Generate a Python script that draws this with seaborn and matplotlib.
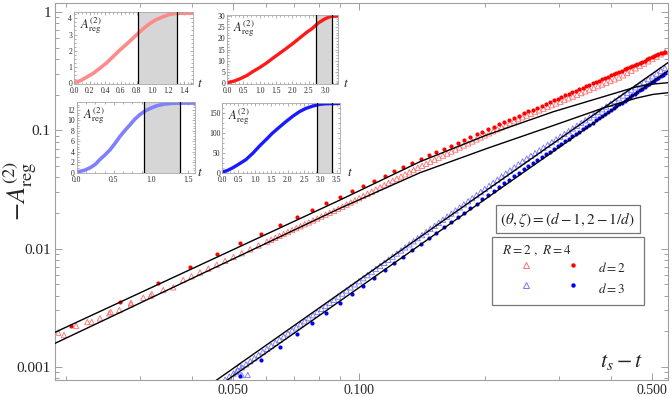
import matplotlib
matplotlib.use("Agg")
import matplotlib.pyplot as plt
import seaborn as sns
from matplotlib.lines import Line2D
from matplotlib.legend_handler import HandlerTuple
from matplotlib.ticker import FixedLocator, NullFormatter, FormatStrFormatter, AutoMinorLocator

# R = 4, d = 2 (filled red dots)
red_dot_t = [0.0205, 0.0268, 0.0331, 0.0394, 0.0457, 0.0520, 0.0583, 0.0646, 0.0709, 0.0772,
             0.0835, 0.0898, 0.0961, 0.1024, 0.1087, 0.1150, 0.1213, 0.1276, 0.1339, 0.1402,
             0.1465, 0.1528, 0.1591, 0.1654, 0.1717, 0.1780, 0.1843, 0.1906, 0.1969, 0.2032,
             0.2095, 0.2158, 0.2221, 0.2284, 0.2347, 0.2410, 0.2473, 0.2536, 0.2599, 0.2662,
             0.2725, 0.2788, 0.2851, 0.2914, 0.2977, 0.3040, 0.3103, 0.3166, 0.3229, 0.3292,
             0.3355, 0.3418, 0.3481, 0.3544, 0.3607, 0.3670, 0.3733, 0.3796, 0.3859, 0.3922,
             0.3985, 0.4048, 0.4111, 0.4174, 0.4237, 0.4300, 0.4363, 0.4426, 0.4489, 0.4552,
             0.4615, 0.4678, 0.4741, 0.4804, 0.4867, 0.4930, 0.4993, 0.5056, 0.5119, 0.5182,
             0.5245, 0.5308, 0.5371]
red_dot_A = [0.00223, 0.00356, 0.00516, 0.00700, 0.00895, 0.01109, 0.01341, 0.01589, 0.01854, 0.02136,
             0.02432, 0.02744, 0.03070, 0.03410, 0.03765, 0.04134, 0.04517, 0.04912, 0.05321, 0.05742,
             0.06152, 0.06569, 0.06995, 0.07428, 0.07873, 0.08326, 0.08787, 0.09262, 0.09739, 0.1023,
             0.1072, 0.1123, 0.1174, 0.1227, 0.1279, 0.1333, 0.1388, 0.1443, 0.1499, 0.1556,
             0.1614, 0.1671, 0.1730, 0.1791, 0.1851, 0.1912, 0.1974, 0.2037, 0.2100, 0.2164,
             0.2228, 0.2294, 0.2360, 0.2427, 0.2493, 0.2562, 0.2630, 0.2698, 0.2769, 0.2840,
             0.2911, 0.2982, 0.3055, 0.3129, 0.3202, 0.3276, 0.3351, 0.3426, 0.3503, 0.3579,
             0.3656, 0.3735, 0.3813, 0.3891, 0.3972, 0.4050, 0.4132, 0.4213, 0.4295, 0.4377,
             0.4461, 0.4544, 0.4627]

# R = 4, d = 3 (filled blue dots)
blue_dot_t = [0.0520, 0.0583, 0.0646, 0.0709, 0.0772, 0.0835, 0.0898, 0.0961, 0.1024, 0.1087,
              0.1150, 0.1213, 0.1276, 0.1339, 0.1402, 0.1465, 0.1528, 0.1591, 0.1654, 0.1717,
              0.1780, 0.1843, 0.1906, 0.1969, 0.2032, 0.2095, 0.2158, 0.2221, 0.2284, 0.2347,
              0.2410, 0.2473, 0.2536, 0.2599, 0.2662, 0.2725, 0.2788, 0.2851, 0.2914, 0.2977,
              0.3040, 0.3103, 0.3166, 0.3229, 0.3292, 0.3355, 0.3418, 0.3481, 0.3544, 0.3607,
              0.3670, 0.3733, 0.3796, 0.3859, 0.3922, 0.3985, 0.4048, 0.4111, 0.4174, 0.4237,
              0.4300, 0.4363, 0.4426, 0.4489, 0.4552, 0.4615, 0.4678, 0.4741, 0.4804, 0.4867,
              0.4930, 0.4993, 0.5056, 0.5119, 0.5182, 0.5245, 0.5308, 0.5371]
blue_dot_A = [0.000846, 0.001136, 0.001480, 0.001880, 0.002342, 0.002867, 0.003456, 0.004117, 0.004850, 0.005653,
              0.006537, 0.007503, 0.008543, 0.009676, 0.01089, 0.01219, 0.01359, 0.01509, 0.01667, 0.01836,
              0.02014, 0.02203, 0.02403, 0.02612, 0.02833, 0.03065, 0.03306, 0.03561, 0.03830, 0.04106,
              0.04397, 0.04674, 0.04967, 0.05271, 0.05585, 0.05911, 0.06246, 0.06592, 0.06951, 0.07319,
              0.07699, 0.08092, 0.08494, 0.08910, 0.09337, 0.09772, 0.1022, 0.1068, 0.1116, 0.1164,
              0.1214, 0.1265, 0.1317, 0.1370, 0.1425, 0.1481, 0.1538, 0.1597, 0.1657, 0.1718,
              0.1780, 0.1844, 0.1909, 0.1976, 0.2043, 0.2112, 0.2183, 0.2254, 0.2327, 0.2402,
              0.2477, 0.2555, 0.2634, 0.2714, 0.2795, 0.2878, 0.2962, 0.3047]

# shared time grid of the dense R = 2 runs (beyond t_s - t ~ 0.06)
dense_t = [0.06166, 0.06310, 0.06457, 0.06607, 0.06761, 0.06918, 0.07079, 0.07244, 0.07413, 0.07586,
           0.07762, 0.07943, 0.08128, 0.08318, 0.08511, 0.08710, 0.08913, 0.09120, 0.09333, 0.09550,
           0.09772, 0.1000, 0.1023, 0.1047, 0.1072, 0.1096, 0.1122, 0.1148, 0.1175, 0.1202,
           0.1230, 0.1259, 0.1288, 0.1318, 0.1349, 0.1380, 0.1413, 0.1445, 0.1479, 0.1514,
           0.1549, 0.1585, 0.1622, 0.1660, 0.1698, 0.1738, 0.1778, 0.1820, 0.1862, 0.1905,
           0.1950, 0.1995, 0.2042, 0.2089, 0.2138, 0.2188, 0.2239, 0.2291, 0.2344, 0.2399,
           0.2455, 0.2512, 0.2570, 0.2630, 0.2692, 0.2754, 0.2818, 0.2884, 0.2951, 0.3020,
           0.3090, 0.3162, 0.3236, 0.3311, 0.3388, 0.3467, 0.3548, 0.3631, 0.3715, 0.3802,
           0.3890, 0.3981, 0.4074, 0.4169, 0.4266, 0.4365, 0.4467, 0.4571, 0.4677, 0.4786,
           0.4898, 0.5012, 0.5129, 0.5248, 0.5370]

# R = 2, d = 2 (open red triangles)
red_tri_t = [0.01914, 0.01975, 0.02110, 0.02245, 0.02300, 0.02407, 0.02533, 0.02553, 0.02676, 0.02854,
             0.02854, 0.03054, 0.03180, 0.03199, 0.03408, 0.03601,
             0.03802, 0.03981, 0.04169, 0.04365, 0.04571, 0.04786, 0.05012, 0.05248, 0.05495, 0.05754,
             0.06026] + dense_t
red_tri_A = [0.001946, 0.001860, 0.002230, 0.002396, 0.002396, 0.002575, 0.002839, 0.002911, 0.003027, 0.003381,
             0.003488, 0.003846, 0.003999, 0.004133, 0.004467, 0.004708,
             0.005435, 0.005832, 0.006285, 0.006775, 0.007303, 0.007873, 0.008486, 0.009146, 0.009859, 0.010627,
             0.011456,
             0.01189, 0.01235, 0.01282, 0.01331, 0.01382, 0.01435, 0.01490, 0.01546, 0.01606, 0.01667,
             0.01731, 0.01797, 0.01866, 0.01937, 0.02011, 0.02088, 0.02168, 0.02256, 0.02354, 0.02455,
             0.02561, 0.02671, 0.02786, 0.02906, 0.03031, 0.03161, 0.03297, 0.03439, 0.03587, 0.03741,
             0.03902, 0.04070, 0.04245, 0.04428, 0.04619, 0.04818, 0.05017, 0.05218, 0.05428, 0.05647,
             0.05874, 0.06110, 0.06357, 0.06612, 0.06879, 0.07155, 0.07443, 0.07743, 0.08054, 0.08380,
             0.08716, 0.09066, 0.09433, 0.09811, 0.1021, 0.1062, 0.1104, 0.1149, 0.1195, 0.1244,
             0.1289, 0.1333, 0.1379, 0.1426, 0.1474, 0.1525, 0.1577, 0.1631, 0.1687, 0.1744,
             0.1804, 0.1866, 0.1929, 0.1995, 0.2064, 0.2134, 0.2207, 0.2283, 0.2361, 0.2441,
             0.2525, 0.2611, 0.2700, 0.2793, 0.2918, 0.3054, 0.3195, 0.3344, 0.3499, 0.3661,
             0.3831, 0.4009, 0.4195, 0.4390, 0.4593]

# R = 2, d = 3 (open blue triangles)
blue_tri_t = [0.05176, 0.05245, 0.05420, 0.05083,
              0.04786, 0.04898, 0.05012, 0.05129, 0.05248, 0.05370, 0.05495, 0.05623, 0.05754, 0.05888,
              0.06026] + dense_t
blue_tri_A = [0.001018, 0.000854, 0.000854, 0.000906,
              0.000780, 0.000829, 0.000880, 0.000934, 0.000992, 0.001053, 0.001118, 0.001187, 0.001260, 0.001338,
              0.001420,
              0.001508, 0.001601, 0.001699, 0.001804, 0.001916, 0.002034, 0.002159, 0.002293, 0.002434, 0.002584,
              0.002744, 0.002913, 0.003093, 0.003283, 0.003486, 0.003701, 0.003930, 0.004172, 0.004429, 0.004702,
              0.004993, 0.005301, 0.005627, 0.005975, 0.006343, 0.006735, 0.007150, 0.007591, 0.008060, 0.008557,
              0.009085, 0.009646, 0.01024, 0.01087, 0.01154, 0.01226, 0.01301, 0.01381, 0.01467, 0.01557,
              0.01653, 0.01755, 0.01863, 0.01979, 0.02101, 0.02230, 0.02368, 0.02514, 0.02669, 0.02834,
              0.03008, 0.03194, 0.03391, 0.03600, 0.03822, 0.04058, 0.04309, 0.04574, 0.04857, 0.05156,
              0.05464, 0.05764, 0.06080, 0.06414, 0.06766, 0.07137, 0.07529, 0.07942, 0.08378, 0.08837,
              0.09322, 0.09834, 0.1037, 0.1094, 0.1154, 0.1218, 0.1284, 0.1355, 0.1429, 0.1508,
              0.1590, 0.1678, 0.1770, 0.1867, 0.1969, 0.2077, 0.2191, 0.2312, 0.2439, 0.2572,
              0.2713, 0.2862, 0.3019, 0.3185, 0.3360]

# black fit curves
fit_t = [0.01829, 0.04171, 0.0900, 0.1397, 0.2016, 0.2907, 0.3826, 0.4597, 0.5036, 0.552]
fit_red_upper = [0.001875, 0.007266, 0.02575, 0.05428, 0.09126, 0.1436, 0.1923, 0.2336, 0.2462, 0.2535]
fit_red_lower = [0.001511, 0.006029, 0.02191, 0.04381, 0.07017, 0.1098, 0.1543, 0.1875, 0.2014, 0.2087]
fit_blue_t = [0.04171, 0.552]
fit_blue_upper = [0.000617, 0.3837]
fit_blue_lower = [0.000534, 0.3259]

# insets: A_reg(t) over the whole run, shaded = fit window
in1_t = [0, 0.08, 0.16, 0.25, 0.33, 0.42, 0.50, 0.58, 0.67, 0.75, 0.82, 0.90, 0.97, 1.05, 1.14, 1.22, 1.31, 1.40, 1.51]
in1_A = [0.04, 0.15, 0.37, 0.62, 0.92, 1.27, 1.64, 2.02, 2.40, 2.76, 3.08, 3.42, 3.69, 3.92, 4.10, 4.24, 4.31, 4.31, 4.31]
in2_t = [0, 0.2, 0.38, 0.6, 0.79, 1.0, 1.2, 1.4, 1.61, 1.8, 2.02, 2.2, 2.43, 2.6, 2.8, 3.0, 3.18, 3.4]
in2_A = [0.3, 0.9, 1.9, 3.4, 5.2, 7.0, 8.9, 11.1, 13.3, 15.3, 17.7, 19.8, 22.5, 24.2, 26.8, 28.6, 29.7, 29.8]
in3_t = [0, 0.1, 0.18, 0.25, 0.31, 0.38, 0.45, 0.52, 0.58, 0.65, 0.72, 0.78, 0.85, 0.92, 0.99, 1.08, 1.17, 1.28, 1.39, 1.59]
in3_A = [0.13, 0.45, 0.95, 1.6, 2.5, 3.4, 4.4, 5.7, 6.9, 8.1, 9.2, 10.2, 11.1, 11.8, 12.3, 12.8, 13.1, 13.25, 13.3, 13.3]
in4_t = [0, 0.15, 0.33, 0.5, 0.73, 0.95, 1.14, 1.35, 1.54, 1.75, 1.95, 2.15, 2.36, 2.55, 2.76, 2.97, 3.15, 3.37, 3.58]
in4_A = [1.7, 5, 12.5, 21, 33, 50, 67, 84, 100, 115, 129, 142, 154, 162, 168, 172.5, 174, 174.5, 174.5]
windows = [(0.82, 1.31), (2.72, 3.22), (0.90, 1.39), (2.90, 3.35)]

RED, LRED = "#ff0000", "#ff6e6e"
BLUE, LBLUE = "#0000ff", "#7474ff"
FRAME = "#a0a0a0"

sns.set_style("ticks")
plt.rcParams["font.family"] = ["Liberation Serif", "DejaVu Serif"]
plt.rcParams["mathtext.fontset"] = "stix"

fig = plt.figure(figsize=(6.72, 3.97), dpi=100)
ax = fig.add_axes([0.0818, 0.0428, 0.9122, 0.9496])
ax.set_xscale("log")
ax.set_yscale("log")

sns.scatterplot(x=red_tri_t, y=red_tri_A, ax=ax, marker="^", s=15, facecolor="none",
                edgecolor=LRED, linewidth=0.6, zorder=2)
sns.scatterplot(x=blue_tri_t, y=blue_tri_A, ax=ax, marker="^", s=15, facecolor="none",
                edgecolor=LBLUE, linewidth=0.6, zorder=2)
sns.scatterplot(x=red_dot_t, y=red_dot_A, ax=ax, color=RED, s=9, linewidth=0, zorder=3)
sns.scatterplot(x=blue_dot_t, y=blue_dot_A, ax=ax, color=BLUE, s=9, linewidth=0, zorder=3)

for xs, ys in [(fit_t, fit_red_upper), (fit_t, fit_red_lower),
               (fit_blue_t, fit_blue_upper), (fit_blue_t, fit_blue_lower)]:
    sns.lineplot(x=xs, y=ys, ax=ax, color="black", lw=1.0, sort=False, estimator=None, zorder=4)

ax.set_xlim(0.018793, 0.5459)
ax.set_ylim(0.000775, 1.1915)

ax.xaxis.set_major_locator(FixedLocator([0.05, 0.1, 0.5]))
ax.set_xticklabels(["0.050", "0.100", "0.500"])
ax.xaxis.set_minor_locator(FixedLocator([0.02, 0.03, 0.04, 0.06, 0.07, 0.08, 0.09, 0.2, 0.3, 0.4]))
ax.xaxis.set_minor_formatter(NullFormatter())
ax.yaxis.set_major_locator(FixedLocator([0.001, 0.01, 0.1, 1]))
ax.set_yticklabels(["0.001", "0.01", "0.1", "1"])
ax.yaxis.set_minor_locator(FixedLocator([m * 10.0 ** e for e in (-4, -3, -2, -1, 0) for m in range(2, 10)]))
ax.yaxis.set_minor_formatter(NullFormatter())
ax.tick_params(which="both", direction="in", top=True, right=True, color=FRAME, width=0.7)
ax.tick_params(which="major", length=5)
ax.tick_params(which="minor", length=3)
ax.tick_params(axis="x", labelsize=10, pad=3)
ax.tick_params(axis="y", labelsize=11, pad=3)
for sp in ax.spines.values():
    sp.set_color(FRAME)
    sp.set_linewidth(0.8)

ax.set_ylabel(r"$-A_{\rm reg}^{(2)}$", fontsize=19, va="center")
ax.yaxis.set_label_coords(-0.057, 0.5)
ax.text(0.9245, 0.048, r"$t_s - t$", transform=ax.transAxes, fontsize=16, ha="center", va="center")

ax.text(0.8367, 0.427, r"$(\theta,\zeta)=(d-1,2-1/d)$", transform=ax.transAxes, fontsize=11,
        ha="center", va="center",
        bbox=dict(boxstyle="square,pad=0.3", fc="white", ec="#777777", lw=0.9), zorder=6)

h_rt = Line2D([], [], ls="none", marker="^", ms=4.2, mfc="none", mec=LRED, mew=0.7)
h_rd = Line2D([], [], ls="none", marker="o", ms=3.2, mfc=RED, mec=RED, mew=0)
h_bt = Line2D([], [], ls="none", marker="^", ms=4.2, mfc="none", mec=LBLUE, mew=0.7)
h_bd = Line2D([], [], ls="none", marker="o", ms=3.2, mfc=BLUE, mec=BLUE, mew=0)
leg = ax.legend([(h_rt, h_rd), (h_bt, h_bd)], [r"$d=2$", r"$d=3$"],
                handler_map={tuple: HandlerTuple(ndivide=None, pad=-0.7)},
                title=r"$\enspace R=2\ ,\ R=4$", title_fontsize=9.5, fontsize=9.5, alignment="left",
                loc="upper left", bbox_to_anchor=(0.7124, 0.1, 0.2489, 0.2785), mode="expand",
                borderaxespad=0, handlelength=7.87, handleheight=2.0, handletextpad=-0.27,
                labelspacing=0.0, borderpad=0.45, fancybox=False, frameon=True,
                edgecolor="#777777", framealpha=1)
leg.get_frame().set_linewidth(0.9)
leg.set_zorder(6)


def draw_inset(rect, t, A, color, win, xlim, ylim, xticks, yticks, tx, lw):
    a = fig.add_axes(rect)
    a.set_facecolor("white")
    a.axvspan(win[0], win[1], color="#d6d6d6", lw=0, zorder=1)
    a.axvline(win[0], color="black", lw=0.9, zorder=3)
    a.axvline(win[1], color="black", lw=0.9, zorder=3)
    sns.lineplot(x=t, y=A, ax=a, color=color, lw=lw, sort=False, estimator=None, zorder=2)
    a.set_xlim(*xlim)
    a.set_ylim(*ylim)
    a.set_xticks(xticks)
    a.set_yticks(yticks)
    a.xaxis.set_major_formatter(FormatStrFormatter("%.1f"))
    a.xaxis.set_minor_locator(AutoMinorLocator(4))
    a.yaxis.set_minor_locator(AutoMinorLocator(4))
    a.tick_params(which="both", direction="in", top=True, right=True, color="#909090", width=0.5,
                  labelsize=5.5)
    a.tick_params(axis="x", pad=2.3)
    a.tick_params(axis="y", pad=1.3)
    a.tick_params(which="major", length=2.2)
    a.tick_params(which="minor", length=1.2)
    for sp in a.spines.values():
        sp.set_color("#a8a8a8")
        sp.set_linewidth(0.6)
    a.set_xlabel("")
    a.set_ylabel("")
    a.text(0.05, 0.95, r"$A_{\rm reg}^{(2)}$", transform=a.transAxes, fontsize=9, ha="left", va="top")
    a.text(tx, 0.0, r"$t$", transform=a.transAxes, fontsize=9.5, ha="center", va="center")
    return a


draw_inset([0.1101, 0.7884, 0.1766, 0.1806], in1_t, in1_A, "#ff8a8a", windows[0], (0, 1.515), (-0.05, 4.37),
           [0, 0.2, 0.4, 0.6, 0.8, 1.0, 1.2, 1.4], [0, 1, 2, 3, 4], 1.06, 2.6)
draw_inset([0.3378, 0.7884, 0.1652, 0.1738], in2_t, in2_A, "#ff1a1a", windows[1], (0, 3.4), (-0.3, 30.3),
           [0, 0.5, 1.0, 1.5, 2.0, 2.5, 3.0], [0, 5, 10, 15, 20, 25, 30], 1.07, 2.4)
draw_inset([0.1141, 0.5635, 0.1760, 0.1788], in3_t, in3_A, "#8080ff", windows[2], (0, 1.59), (-0.1, 13.45),
           [0, 0.5, 1.0, 1.5], [0, 2, 4, 6, 8, 10, 12], 1.045, 2.6)
draw_inset([0.3304, 0.5635, 0.1756, 0.1771], in4_t, in4_A, "#1a1aff", windows[3], (0, 3.6), (-1.5, 176),
           [0, 0.5, 1.0, 1.5, 2.0, 2.5, 3.0, 3.5], [0, 50, 100, 150], 1.085, 2.4)

fig.savefig("out.png", dpi=100)
